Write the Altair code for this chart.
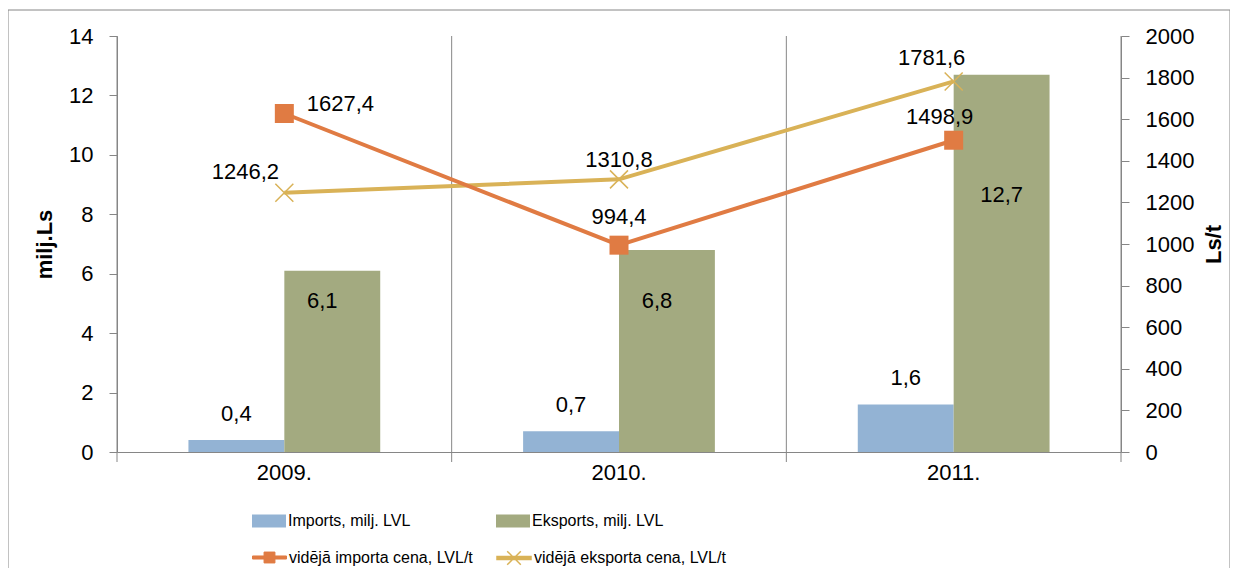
import altair as alt
import pandas as pd

# ---- data ----
years = ["2009.", "2010.", "2011."]
imports = [0.4, 0.7, 1.6]
exports = [6.1, 6.8, 12.7]
import_price = [1627.4, 994.4, 1498.9]
export_price = [1246.2, 1310.8, 1781.6]

s_imp = "Imports, milj. LVL"
s_exp = "Eksports, milj. LVL"
s_ip = "vidējā importa cena, LVL/t"
s_ep = "vidējā eksporta cena, LVL/t"

# ---- styles ----
GRAY = "#868686"
C_IMP = "#93B3D4"
C_EXP = "#A3AA80"
C_IP = "#E07B43"
C_EP = "#D9B257"
FONT = "Liberation Sans"
FS = 22

# label offsets (dx, dy) in pixels
imp_bar_off = [(0, -26), (0, -26), (0, -26)]
exp_bar_off = [(-10, 30), (-10, 51), (0, 120)]
ip_off = [(56, -10), (0, -28), (-14, -23)]
ep_off = [(-39, -21), (0, -19), (-22, -23)]


def fmt(v):
    return f"{v:.1f}".replace(".", ",")


bars_df = pd.DataFrame({
    "year": years * 2,
    "series": [s_imp] * 3 + [s_exp] * 3,
    "value": imports + exports,
})
bars_df["label"] = bars_df["value"].map(fmt)

ip_df = pd.DataFrame({"year": years, "series": s_ip, "value": import_price})
ip_df["label"] = ip_df["value"].map(fmt)
ep_df = pd.DataFrame({"year": years, "series": s_ep, "value": export_price})
ep_df["label"] = ep_df["value"].map(fmt)
yr_df = pd.DataFrame({"year": years})

x_scale = alt.Scale(domain=years, paddingInner=0, paddingOuter=0)
x_axis = alt.Axis(title=None, labelAngle=0, ticks=False, grid=False,
                  domainColor=GRAY, labelFontSize=FS, labelPadding=10,
                  labelColor="black")


def X(**kw):
    return alt.X("year:N", scale=x_scale, axis=x_axis, **kw)


xoff = alt.XOffset("series:N", scale=alt.Scale(domain=[s_imp, s_exp],
                                               paddingInner=0, paddingOuter=0.745))

y_left = alt.Y("value:Q",
               scale=alt.Scale(domain=[0, 14], nice=False),
               axis=alt.Axis(values=list(range(0, 15, 2)), title="milj.Ls", orient="left",
                             grid=False, domainColor=GRAY, tickColor=GRAY, tickSize=8,
                             labelFontSize=FS, labelPadding=16, labelColor="black",
                             titleFontSize=FS, titleFontWeight="bold", titlePadding=12,
                             titleColor="black"))
y_right = alt.Y("value:Q",
                scale=alt.Scale(domain=[0, 2000], nice=False),
                axis=alt.Axis(values=list(range(0, 2001, 200)), format="d", title="Ls/t",
                              orient="right",
                              grid=False, domainColor=GRAY, tickColor=GRAY, tickSize=8,
                              labelFontSize=FS, labelPadding=16, labelColor="black",
                              titleFontSize=FS, titleFontWeight="bold", titlePadding=10,
                              titleAngle=270, titleBaseline="top", titleColor="black"))

# ---- left (bars) ----
border = alt.Chart(yr_df).mark_rect(filled=False, stroke=GRAY, strokeWidth=1).encode(
    x=alt.value(-109), x2=alt.value(1113), y=alt.value(-26), y2=alt.value(600)
).transform_filter(alt.datum.year == years[0])

grid = alt.Chart(yr_df).mark_rule(color=GRAY, strokeWidth=1).encode(
    x=X(bandPosition=0), y=alt.value(0), y2=alt.value(426)
)
grid_end = alt.Chart(yr_df).transform_filter(alt.datum.year == years[-1]).mark_rule(
    color=GRAY, strokeWidth=1).encode(
    x=X(bandPosition=1), y=alt.value(0), y2=alt.value(426)
)

bars = alt.Chart(bars_df).mark_bar().encode(
    x=X(), xOffset=xoff, y=y_left,
    fill=alt.Fill("series:N", scale=alt.Scale(domain=[s_imp, s_exp], range=[C_IMP, C_EXP]),
                  legend=alt.Legend(title=None, orient="none", legendX=135, legendY=468,
                                    columns=2, columnPadding=85,
                                    symbolType="M-1,-0.38H1V0.38H-1Z", symbolSize=1156,
                                    symbolStrokeWidth=0, labelFontSize=16, labelOffset=2,
                                    labelLimit=400, padding=0, labelColor="black")),
)

bar_texts = []
for i, y in enumerate(years):
    for s, offs in ((s_imp, imp_bar_off), (s_exp, exp_bar_off)):
        dx, dy = offs[i]
        bar_texts.append(
            alt.Chart(bars_df).transform_filter(
                (alt.datum.year == y) & (alt.datum.series == s)
            ).mark_text(fontSize=FS, color="black", dx=dx, dy=dy, baseline="middle").encode(
                x=X(), xOffset=xoff, y=y_left, text="label:N"
            )
        )

left = alt.layer(border, grid, grid_end, bars, *bar_texts)

# ---- right (lines) ----
line_ip = alt.Chart(ip_df).mark_line(strokeWidth=4).encode(
    x=X(), y=y_right,
    stroke=alt.Stroke("series:N", scale=alt.Scale(domain=[s_ip], range=[C_IP]),
                      legend=alt.Legend(title=None, orient="none", legendX=135, legendY=504,
                                        symbolType="M-1,-0.09H1V0.09H-1ZM-0.32,-0.32H0.32V0.32H-0.32Z",
                                        symbolSize=1156, symbolStrokeWidth=1,
                                        symbolFillColor=C_IP, labelFontSize=16,
                                        labelOffset=2, labelLimit=400, padding=0,
                                        labelColor="black")),
)
pts_ip = alt.Chart(ip_df).mark_point(shape="square", filled=True, size=361, color=C_IP,
                                      opacity=1).encode(x=X(), y=y_right)

line_ep = alt.Chart(ep_df).mark_line(strokeWidth=4).encode(
    x=X(), y=y_right,
    stroke=alt.Stroke("series:N", scale=alt.Scale(domain=[s_ep], range=[C_EP]),
                      legend=alt.Legend(title=None, orient="none", legendX=379, legendY=504,
                                        symbolType="M-1,-0.09H1V0.09H-1ZM-0.4,-0.4L0.4,0.4M-0.4,0.4L0.4,-0.4",
                                        symbolSize=1156, symbolStrokeWidth=1.5,
                                        symbolFillColor=C_EP, labelFontSize=16,
                                        labelOffset=2, labelLimit=400, padding=0,
                                        labelColor="black")),
)
pts_ep = alt.Chart(ep_df).mark_point(shape="M-1,-1L1,1M-1,1L1,-1", filled=False, size=324,
                                      color=C_EP, strokeWidth=1.5, opacity=1).encode(
    x=X(), y=y_right)

line_texts = []
for df, offs in ((ip_df, ip_off), (ep_df, ep_off)):
    for i, y in enumerate(years):
        dx, dy = offs[i]
        line_texts.append(
            alt.Chart(df).transform_filter(alt.datum.year == y).mark_text(
                fontSize=FS, color="black", dx=dx, dy=dy, baseline="middle"
            ).encode(x=X(), y=y_right, text="label:N")
        )

right = alt.layer(line_ep, line_ip, pts_ep, pts_ip, *line_texts).resolve_scale(stroke="independent")

chart = alt.layer(left, right).resolve_scale(
    y="independent", stroke="independent"
).properties(
    width=1004, height=416,
    autosize=alt.AutoSizeParams(type="none"),
    padding={"left": 109, "top": 28, "right": 109, "bottom": 116},
).configure(font=FONT).configure_view(stroke=None)

chart.save("out.html", embed_options={"renderer": "svg", "actions": False})
